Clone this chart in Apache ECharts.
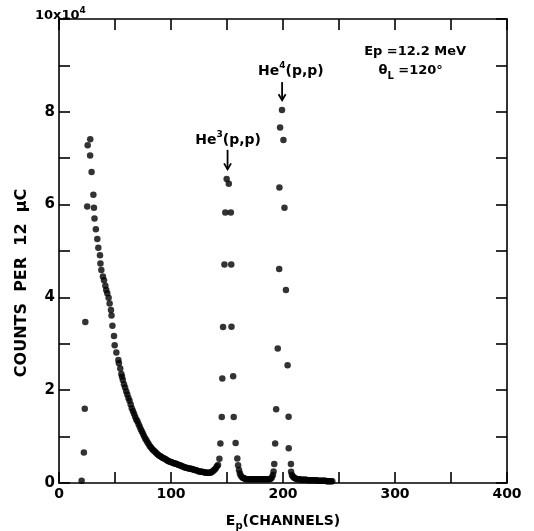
<!DOCTYPE html>
<html><head><meta charset="utf-8">
<script src="https://cdn.jsdelivr.net/npm/echarts@6/dist/echarts.min.js"></script>
<style>html,body{margin:0;padding:0;background:#fff}#c{width:534px;height:531px}</style>
</head><body><div id="c"></div>
<script>
// counts per 12 uC, in units of 10^4; [channel, counts]
const lowPeak = [[20.2,0.05],[22.2,0.66],[23.0,1.60],[23.5,3.47],[25.2,5.96],[25.6,7.28],[27.9,7.41],[27.8,7.06],[29.1,6.70],[30.7,6.21],[31.2,5.93],[31.7,5.70],[32.9,5.47],[34.2,5.26],[35.1,5.07],[36.6,4.91],[37.0,4.73],[37.8,4.59],[39.2,4.45],[40.2,4.37],[41.4,4.25],[42.2,4.16],[43.1,4.09],[44.3,3.99],[45.2,3.87],[46.4,3.73],[46.9,3.61],[47.7,3.39],[49.1,3.17],[49.7,2.97],[51.2,2.81],[53.0,2.65],[53.5,2.58],[54.7,2.47],[55.7,2.35],[56.3,2.29]];
const tail = [[57,2.22],[58,2.13],[59,2.06],[60,1.98],[61,1.91],[62,1.83],[63,1.77],[64,1.69],[65,1.61],[66,1.55],[67,1.49],[68,1.43],[69,1.37],[70,1.33],[71,1.27],[72,1.22],[73,1.16],[74,1.11],[75,1.06],[76,1.01],[77,0.96],[78,0.92],[79,0.88],[80,0.84],[81,0.80],[82,0.77],[83,0.74],[84,0.71],[85,0.69],[86,0.67],[87,0.64],[88,0.62],[89,0.60],[90,0.58],[91,0.57],[92,0.55],[93,0.54],[94,0.53],[95,0.51],[96,0.50],[97,0.48],[98,0.47],[99,0.46],[100,0.45],[101,0.44],[102,0.43],[103,0.42],[104,0.42],[105,0.41],[106,0.40],[107,0.39],[108,0.38],[109,0.37],[110,0.36],[111,0.35],[112,0.34],[113,0.33],[114,0.33],[115,0.32],[116,0.31],[117,0.31],[118,0.30],[119,0.30],[120,0.29],[121,0.28],[122,0.28],[123,0.27],[124,0.26],[125,0.25],[126,0.25],[127,0.24],[128,0.24],[129,0.23],[130,0.23],[131,0.22],[132,0.22],[133,0.22],[134,0.22],[135,0.22],[136,0.23],[137,0.25],[138,0.27],[139,0.29],[140,0.32],[141,0.36],[142,0.39]];
const he3Peak = [[143.2,0.52],[144.1,0.85],[145.3,1.42],[145.8,2.25],[146.5,3.36],[147.7,4.71],[148.5,5.83],[149.7,6.55],[151.6,6.45],[153.4,5.83],[153.8,4.71],[154.0,3.37],[155.5,2.30],[156.0,1.42],[157.7,0.86],[159.2,0.53],[159.9,0.38]];
const valley = [[160.7,0.28],[161.5,0.21],[162.2,0.16],[163.3,0.13],[164.3,0.11],[165.3,0.10],[166.3,0.09],[167,0.08],[168,0.08],[169,0.08],[170,0.08],[171,0.08],[172,0.08],[173,0.08],[174,0.08],[175,0.08],[176,0.08],[177,0.08],[178,0.08],[179,0.08],[180,0.08],[181,0.08],[182,0.08],[183,0.08],[184,0.08],[185,0.08],[186,0.08],[187,0.08],[188,0.08],[189,0.09],[190,0.12],[191,0.17],[191.6,0.25]];
const he4Peak = [[192.2,0.41],[193.0,0.85],[193.9,1.59],[195.3,2.90],[196.6,4.61],[196.8,6.37],[197.4,7.66],[199.1,8.04],[200.4,7.39],[201.3,5.93],[202.6,4.16],[204.1,2.54],[205.0,1.43],[205.1,0.75],[207.1,0.41],[207.2,0.24]];
const afterHe4 = [[208.0,0.17],[208.8,0.14],[209.7,0.12],[210.7,0.10],[211.7,0.09],[212.7,0.08],[214,0.08],[215,0.08],[216,0.07],[217,0.07],[218,0.07],[219,0.07],[220,0.07],[221,0.07],[222,0.06],[223,0.06],[224,0.06],[225,0.06],[226,0.06],[227,0.06],[228,0.06],[229,0.06],[230,0.06],[231,0.05],[232,0.05],[233,0.05],[234,0.05],[235,0.05],[236,0.05],[237,0.05],[238,0.05],[239,0.04],[240,0.04],[241,0.04],[242,0.04],[243,0.04],[244,0.04]];
const xTickLabels = [0,100,200,300,400];
const yTickLabels = [0,2,4,6,8];

const FONT = 'DejaVu Sans';
const chart = echarts.init(document.getElementById('c'));
const lineStyle = {color:'#000', width:1.6};
const tickStyle = {inside:true, length:11, lineStyle:{color:'#000', width:1.6}};
const labelBase = {color:'#000', fontFamily:FONT, fontWeight:'bold', fontSize:14};
const allPoints = [].concat(lowPeak, tail, he3Peak, valley, he4Peak, afterHe4);

chart.setOption({
  animation:false,
  grid:{left:59, right:27, top:19, bottom:48, containLabel:false, outerBoundsMode:'none'},
  xAxis:[
    {type:'value', min:0, max:400, interval:50, position:'bottom',
     axisLine:{show:true, onZero:false, lineStyle}, axisTick:tickStyle, splitLine:{show:false},
     axisLabel:Object.assign({margin:4, formatter:v=>xTickLabels.includes(v)?String(v):''}, labelBase),
     name:'{a|E}{b|p}{a|(CHANNELS)}', nameLocation:'middle', nameGap:28,
     nameTextStyle:{rich:{a:{fontFamily:FONT, fontWeight:'bold', fontSize:14, color:'#000', lineHeight:20, verticalAlign:'middle'},
                          b:{fontFamily:FONT, fontWeight:'bold', fontSize:10, color:'#000', lineHeight:10, verticalAlign:'bottom'}}}},
    {type:'value', min:0, max:400, interval:50, position:'top',
     axisLine:{show:true, onZero:false, lineStyle}, axisTick:tickStyle, splitLine:{show:false}, axisLabel:{show:false}}
  ],
  yAxis:[
    {type:'value', min:0, max:10, interval:1, position:'left',
     axisLine:{show:true, onZero:false, lineStyle}, axisTick:tickStyle, splitLine:{show:false},
     axisLabel:Object.assign({margin:4, formatter:v=>yTickLabels.includes(v)?String(v):''}, labelBase, {fontSize:15}),
     name:'COUNTS  PER  12  \u03bcC', nameLocation:'middle', nameGap:29,
     nameTextStyle:{fontFamily:FONT, fontWeight:'bold', fontSize:16, color:'#000', padding:[0,64,0,0]}},
    {type:'value', min:0, max:10, interval:1, position:'right',
     axisLine:{show:true, onZero:false, lineStyle}, axisTick:tickStyle, splitLine:{show:false}, axisLabel:{show:false}}
  ],
  series:[{type:'scatter', data:allPoints, symbol:'circle', symbolSize:6.5,
           itemStyle:{color:'#000'}, xAxisIndex:0, yAxisIndex:0, clip:false}]
});

// annotations anchored in data coordinates
function px(c){ return chart.convertToPixel({gridIndex:0}, c); }
function mkRich(size){
  return {
    a:{fontFamily:FONT, fontWeight:'bold', fontSize:size, fill:'#000', lineHeight:20, verticalAlign:'middle'},
    sup:{fontFamily:FONT, fontWeight:'bold', fontSize:9, fill:'#000', lineHeight:10, verticalAlign:'top'},
    sub:{fontFamily:FONT, fontWeight:'bold', fontSize:10, fill:'#000', lineHeight:10, verticalAlign:'bottom'}
  };
}
function txt(pos, text, align, size){
  return {type:'text', x:pos[0], y:pos[1], style:{text, rich:mkRich(size||14), align:align||'center', verticalAlign:'middle', fill:'#000'}};
}
function arrow(c1, c2){
  const p1 = px(c1), p2 = px(c2);
  return [
    {type:'line', shape:{x1:p1[0], y1:p1[1], x2:p2[0], y2:p2[1]}, style:{stroke:'#000', lineWidth:1.8}},
    {type:'polyline', shape:{points:[[p2[0]-3.5,p2[1]-6],[p2[0],p2[1]],[p2[0]+3.5,p2[1]-6]]}, style:{stroke:'#000', lineWidth:1.8, fill:null}}
  ];
}
const topLeft = px([0,10]);
const graphics = [
  txt([topLeft[0]-24, topLeft[1]-3], '{a|10x10}{sup|4}', 'left', 13),
  txt(px([151,7.39]), '{a|He}{sup|3}{a|(p,p)}'),
  txt(px([207,8.88]), '{a|He}{sup|4}{a|(p,p)}'),
  txt(px([318,9.29]), '{a|Ep =12.2 MeV}', 'center', 13),
  txt(px([314,8.88]), '{a|\u03b8}{sub|L}{a| =120\u00b0}', 'center', 13)
].concat(arrow([150.5,7.18],[150.5,6.76]), arrow([199.2,8.64],[199.2,8.25]));
chart.setOption({graphic:graphics});
</script></body></html>
